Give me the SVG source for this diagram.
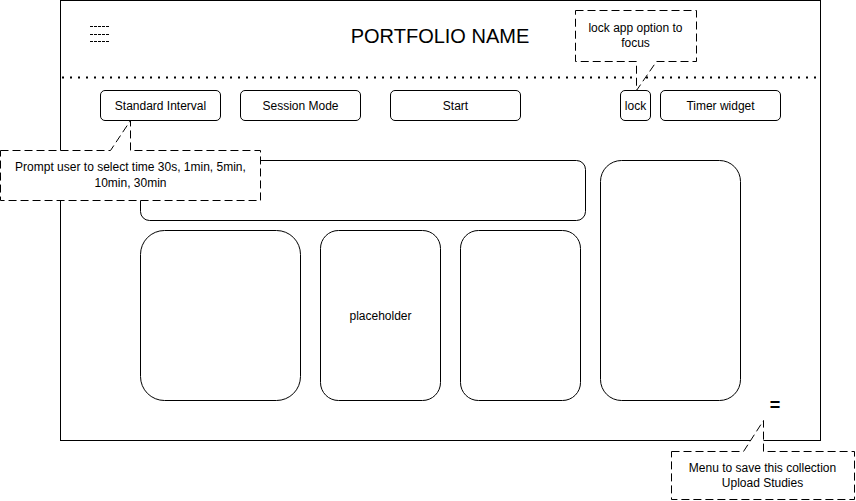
<svg xmlns="http://www.w3.org/2000/svg" width="856" height="501" viewBox="0 0 856 501">
<style>
  .box{fill:#fff;stroke:#000;stroke-width:1}
  .call{fill:#fff;stroke:#000;stroke-width:1;stroke-dasharray:8 4}
  text{font-family:"Liberation Sans",Arial,sans-serif;font-size:12px;fill:#000;text-anchor:middle;dominant-baseline:central}
</style>
<rect width="856" height="501" fill="#fff"/>
<g id="frame"><rect class="box" x="60.5" y="0.5" width="760" height="440"/></g>
<g id="menu-icon" stroke="#000" stroke-width="1" stroke-dasharray="3 1">
  <line x1="90" y1="26.5" x2="110" y2="26.5"/>
  <line x1="90" y1="34.5" x2="110" y2="34.5"/>
  <line x1="90" y1="41.5" x2="110" y2="41.5"/>
</g>
<g id="title"><text x="440" y="36" style="font-size:20px">PORTFOLIO NAME</text></g>
<g id="divider"><line x1="62" y1="77.5" x2="818" y2="77.5" stroke="#000" stroke-width="2" stroke-dasharray="2 6"/></g>
<g id="btn-standard"><rect class="box" x="100.5" y="90.5" width="120" height="30" rx="4.5"/><text x="160.5" y="105.5">Standard Interval</text></g>
<g id="btn-session"><rect class="box" x="240.5" y="90.5" width="120" height="30" rx="4.5"/><text x="300.5" y="105.5">Session Mode</text></g>
<g id="btn-start"><rect class="box" x="390.5" y="90.5" width="130" height="30" rx="4.5"/><text x="455.5" y="105.5">Start</text></g>
<g id="btn-lock"><rect class="box" x="620.5" y="90.5" width="30" height="30" rx="4.5"/><text x="635.5" y="105.5">lock</text></g>
<g id="btn-timer"><rect class="box" x="660.5" y="90.5" width="120" height="30" rx="4.5"/><text x="720.5" y="105.5">Timer widget</text></g>
<g id="panel-wide"><rect class="box" x="140.5" y="160.5" width="445" height="60" rx="9"/></g>
<g id="panel-right"><rect class="box" x="600.5" y="160.5" width="140" height="240" rx="21"/></g>
<g id="card-1"><rect class="box" x="140.5" y="230.5" width="160" height="170" rx="24"/></g>
<g id="card-2"><rect class="box" x="320.5" y="230.5" width="120" height="170" rx="18"/><text x="380.5" y="315.5">placeholder</text></g>
<g id="card-3"><rect class="box" x="460.5" y="230.5" width="120" height="170" rx="18"/></g>
<g id="menu-equals"><text x="775" y="405" style="font-size:18px;font-weight:bold">=</text></g>
<g id="connectors">
  <g id="callout-prompt"><path class="call" d="M0.5,150.5 H110.5 L130.5,120.5 V150.5 H260.5 V200.5 H0.5 Z"/>
    <text x="130.5" y="167">Prompt user to select time 30s, 1min, 5min,</text>
    <text x="130.5" y="183">10min, 30min</text></g>
  <g id="callout-lock"><path class="call" d="M575.5,10.5 H696.5 V61.5 H656.5 L636.5,90.5 V61.5 H575.5 Z"/>
    <text x="635.5" y="28">lock app option to</text>
    <text x="635.5" y="43">focus</text></g>
  <g id="callout-menu"><path class="call" d="M671.5,451.5 H743.5 L763.5,420.5 V451.5 H854.5 V499.5 H671.5 Z"/>
    <text x="762.5" y="468">Menu to save this collection</text>
    <text x="762.5" y="483">Upload Studies</text></g>
</g>
</svg>
